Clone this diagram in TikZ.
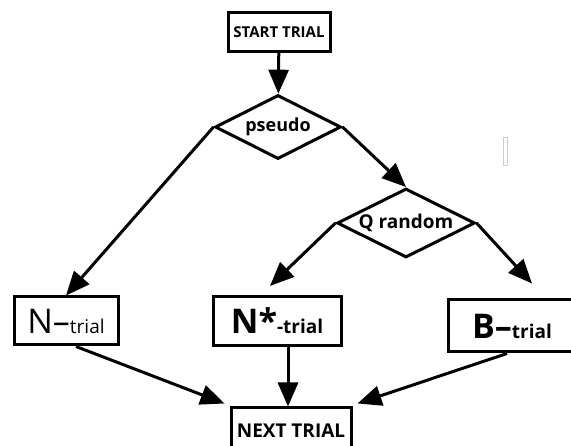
\documentclass[tikz,border=0pt]{standalone}
\usepackage{fontspec}
\setsansfont{Open Sans}
\usetikzlibrary{shapes.geometric,arrows.meta}
\tikzset{
  >={Triangle[length=24pt,width=20pt]},
  trialbox/.style={draw,rectangle,inner sep=0pt},
  choice/.style={draw,diamond,inner sep=0pt,shape aspect=2},
}
\tikzstyle{every node}=[font=\sffamily\bfseries]
\newcommand{\bigtxt}{\fontsize{34}{34}\selectfont}
\newcommand{\subtxt}{\fontsize{19}{19}\selectfont}

\begin{document}
\begin{tikzpicture}[x=1pt,y=-1pt,line width=3pt]
    \clip (0,0) rectangle (571,446);
    \node[trialbox,minimum width=102pt,minimum height=39pt,font=\sffamily\bfseries\fontsize{15}{15}\selectfont] (start) at (279,32) {START TRIAL};
    \node[choice,minimum width=126pt,minimum height=64pt,font=\sffamily\bfseries\fontsize{18}{18}\selectfont] (pseudo) at (278,127) {pseudo};
    \node[choice,minimum width=138pt,minimum height=69pt,font=\sffamily\bfseries\fontsize{19}{19}\selectfont] (q) at (406,223) {Q random};
    \node[trialbox,minimum width=104pt,minimum height=48pt] (ntrial) at (66,321) {\mdseries\bigtxt N--\subtxt trial};
    \node[trialbox,minimum width=128pt,minimum height=49pt] (nstar) at (277,321) {\bigtxt N*\subtxt -trial};
    \node[trialbox,minimum width=127pt,minimum height=52pt] (btrial) at (512,326) {\bigtxt B--\subtxt trial};
    \node[trialbox,minimum width=120pt,minimum height=46pt,font=\sffamily\bfseries\fontsize{19}{19}\selectfont] (next) at (291,431) {NEXT TRIAL};
    \begin{scope}[->]
      \draw (start) -- (pseudo);
      \draw (pseudo.west) -- (ntrial.north);
      \draw (pseudo.east) -- (q.north);
      \draw (q.west) -- ([xshift=-7pt,yshift=9pt]nstar.north);
      \draw (q.east) -- ([xshift=20pt,yshift=15pt]btrial.north);
      \draw ([xshift=10pt]ntrial.south) -- ([xshift=-5pt,yshift=3pt]next.north west);
      \draw ([xshift=11pt]nstar.south) -- ([xshift=11pt]nstar.south |- next.north);
      \draw ([xshift=-5pt]btrial.south) -- ([xshift=5pt,yshift=3pt]next.north east);
    \end{scope}
    \draw[gray!40,line width=0.8pt] (503,137) rectangle (507,165);
\end{tikzpicture}
\end{document}
